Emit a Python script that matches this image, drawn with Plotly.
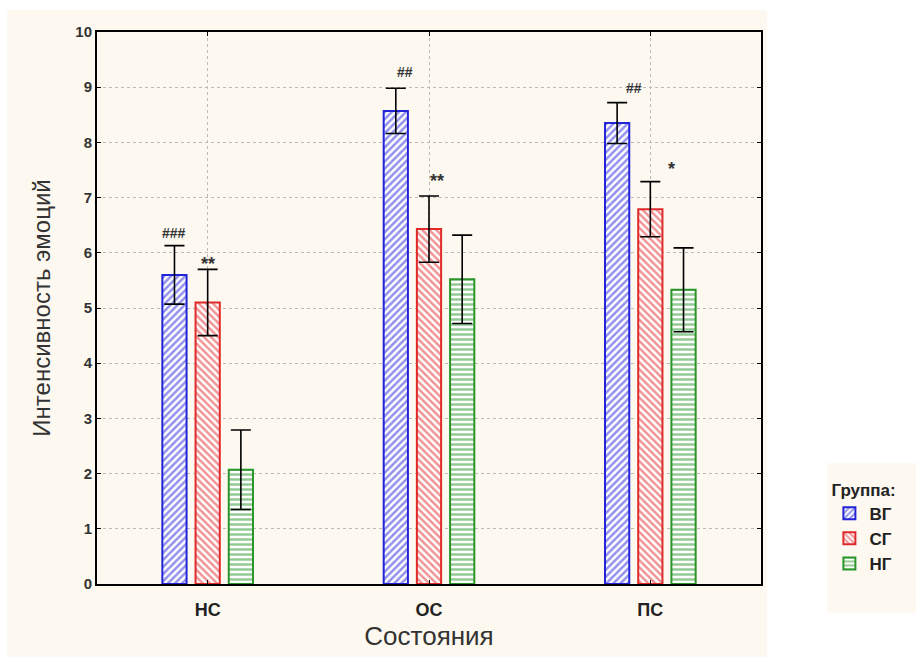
import plotly.graph_objects as go

categories = ["НС", "ОС", "ПС"]
groups = ["ВГ", "СГ", "НГ"]
means = {
    "ВГ": [5.6, 8.57, 8.35],
    "СГ": [5.1, 6.43, 6.79],
    "НГ": [2.07, 5.52, 5.33],
}
errors = {
    "ВГ": [0.53, 0.41, 0.37],
    "СГ": [0.6, 0.6, 0.5],
    "НГ": [0.72, 0.8, 0.76],
}
# significance marks: (category, label, y value)
marks = [
    ("НС", "###", 6.36),
    ("НС", "**", 5.8),
    ("ОС", "##", 9.28),
    ("ОС", "**", 7.3),
    ("ПС", "##", 8.99),
    ("ПС", "*", 7.52),
]
mark_xshift = [-34, 0, -24, 8, -16, 21]
mark_size = [14, 18, 14, 18, 14, 18]

colors = {"ВГ": "#2323D8", "СГ": "#E02A2A", "НГ": "#2A962A"}
shapes = {"ВГ": "/", "СГ": "\\", "НГ": "-"}

fig = go.Figure()
for g in groups:
    fig.add_trace(go.Bar(
        x=categories, y=means[g], name=f"<b>{g}</b>",
        marker=dict(color="white", line=dict(color=colors[g], width=2),
                    pattern=dict(shape=shapes[g], fgcolor=colors[g], bgcolor="white",
                                 size=5, solidity=0.5, fillmode="overlay")),
        error_y=dict(type="data", array=errors[g], color="black", thickness=1.6, width=10),
    ))

for (cat, lab, yv), xs, fs in zip(marks, mark_xshift, mark_size):
    fig.add_annotation(x=cat, y=yv, text=f"<b>{lab}</b>", showarrow=False, xshift=xs,
                       font=dict(size=fs, color="#333333", family="Liberation Sans"))

fig.add_shape(type="rect", xref="paper", yref="paper", x0=-0.1355, x1=1.009, y0=-0.132, y1=1.04,
              fillcolor="#FDF9F0", line=dict(width=0), layer="below")
fig.add_shape(type="rect", xref="paper", yref="paper", x0=1.0994, x1=1.24, y0=-0.0525, y1=0.219,
              fillcolor="#FDF9F0", line=dict(width=0), layer="below")

fig.update_layout(
    width=916, height=659,
    margin=dict(l=97, r=155, t=32, b=75),
    paper_bgcolor="white", plot_bgcolor="white",
    barmode="group", bargap=0.55, bargroupgap=0.27,
    font=dict(family="Liberation Sans", color="#333333"),
    legend=dict(
        title=dict(text="<b>Группа:</b>", font=dict(size=17, color="#222")),
        font=dict(size=17, color="#222"),
        x=1.103, y=0.2, xanchor="left", yanchor="top",
        bgcolor="rgba(0,0,0,0)", borderwidth=0, tracegroupgap=0,
    ),
    xaxis=dict(
        showline=True, linecolor="black", linewidth=2, mirror="ticks",
        ticks="inside", ticklen=4, tickcolor="black",
        showgrid=True, gridcolor="#BBBBBB", griddash="dot", gridwidth=1,
        tickfont=dict(size=18, color="#222"), tickprefix="<b>", ticksuffix="</b>",
        ticklabelstandoff=8,
        title=dict(text="Состояния", font=dict(size=26, color="#333"), standoff=8),
    ),
    yaxis=dict(
        range=[0, 10], dtick=1, showline=True, linecolor="black", linewidth=2, mirror="ticks",
        ticks="inside", ticklen=4, tickcolor="black",
        showgrid=True, gridcolor="#BBBBBB", griddash="dot", gridwidth=1, zeroline=False,
        tickfont=dict(size=15, color="#333"), tickprefix="<b>", ticksuffix="</b>",
        title=dict(text="Интенсивность эмоций", font=dict(size=24, color="#333"), standoff=18),
    ),
)

fig.write_html("out.html")
